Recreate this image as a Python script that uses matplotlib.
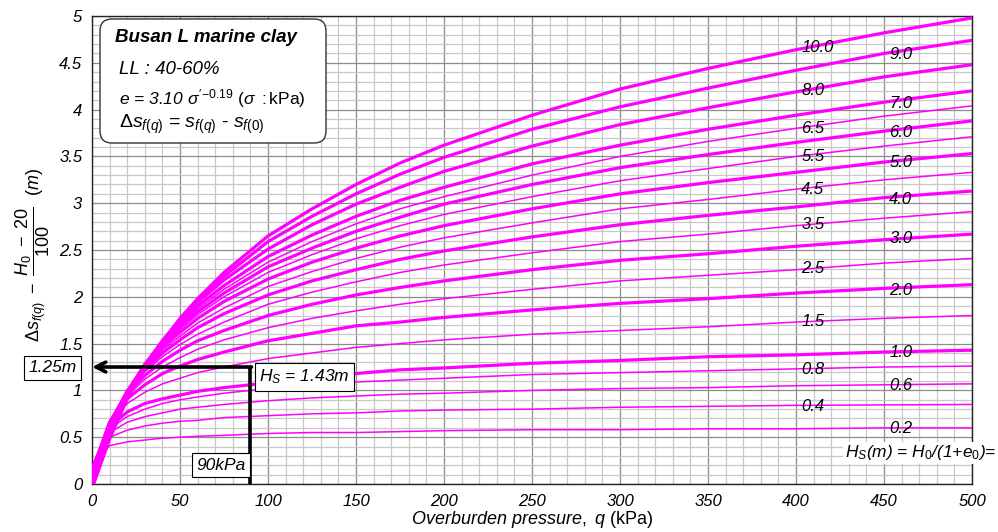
import matplotlib
matplotlib.use("Agg")
import matplotlib.pyplot as plt
from matplotlib.patches import FancyBboxPatch
from matplotlib.ticker import MultipleLocator

plt.rcParams['font.family'] = ['Liberation Sans', 'DejaVu Sans']
plt.rcParams['mathtext.fontset'] = 'custom'
plt.rcParams['mathtext.rm'] = 'Liberation Sans'
plt.rcParams['mathtext.it'] = 'Liberation Sans:italic'
plt.rcParams['mathtext.bf'] = 'Liberation Sans:bold'

# overburden pressure q (kPa) where the curves were read
q = [0, 10, 20, 30, 40, 50, 60, 75, 100, 125, 150, 175, 200, 250, 300, 350, 400, 450, 500]

# delta s - (H0-20)/100 (m)
hs_02 = [0.19, 0.41, 0.45, 0.47, 0.49, 0.50, 0.51, 0.52, 0.54, 0.55, 0.55, 0.56, 0.57, 0.58, 0.58, 0.59, 0.59, 0.60, 0.60]
hs_04 = [0.185, 0.50, 0.575, 0.62, 0.65, 0.67, 0.68, 0.71, 0.73, 0.75, 0.76, 0.78, 0.79, 0.80, 0.82, 0.83, 0.84, 0.845, 0.85]
hs_06 = [0.178, 0.55, 0.66, 0.72, 0.76, 0.80, 0.82, 0.85, 0.89, 0.92, 0.94, 0.96, 0.97, 1.00, 1.02, 1.03, 1.05, 1.06, 1.07]
hs_08 = [0.172, 0.59, 0.72, 0.80, 0.86, 0.90, 0.93, 0.97, 1.02, 1.06, 1.09, 1.11, 1.13, 1.17, 1.19, 1.21, 1.23, 1.25, 1.26]
hs_10 = [0.166, 0.61, 0.77, 0.86, 0.91, 0.95, 0.99, 1.03, 1.08, 1.14, 1.18, 1.22, 1.24, 1.29, 1.32, 1.36, 1.38, 1.41, 1.43]
hs_15 = [0.15, 0.65, 0.86, 0.98, 1.07, 1.13, 1.19, 1.25, 1.34, 1.40, 1.46, 1.50, 1.54, 1.60, 1.64, 1.68, 1.73, 1.77, 1.80]
hs_20 = [0.14, 0.66, 0.91, 1.06, 1.18, 1.26, 1.33, 1.41, 1.53, 1.61, 1.69, 1.73, 1.78, 1.86, 1.93, 1.98, 2.04, 2.09, 2.13]
hs_25 = [0.13, 0.66, 0.94, 1.12, 1.25, 1.35, 1.44, 1.54, 1.67, 1.77, 1.85, 1.92, 1.98, 2.08, 2.17, 2.23, 2.29, 2.36, 2.41]
hs_30 = [0.11, 0.66, 0.97, 1.16, 1.31, 1.43, 1.53, 1.64, 1.80, 1.92, 2.02, 2.10, 2.17, 2.29, 2.39, 2.46, 2.54, 2.61, 2.67]
hs_35 = [0.10, 0.66, 0.98, 1.20, 1.36, 1.49, 1.60, 1.73, 1.92, 2.05, 2.16, 2.26, 2.34, 2.47, 2.59, 2.67, 2.76, 2.84, 2.91]
hs_40 = [0.09, 0.65, 0.99, 1.22, 1.40, 1.54, 1.67, 1.82, 2.02, 2.17, 2.29, 2.40, 2.49, 2.64, 2.77, 2.87, 2.96, 3.06, 3.13]
hs_45 = [0.07, 0.63, 0.99, 1.24, 1.43, 1.58, 1.72, 1.88, 2.11, 2.27, 2.41, 2.53, 2.63, 2.79, 2.94, 3.04, 3.15, 3.25, 3.33]
hs_50 = [0.06, 0.62, 0.99, 1.25, 1.46, 1.62, 1.77, 1.95, 2.19, 2.37, 2.52, 2.65, 2.76, 2.94, 3.10, 3.22, 3.33, 3.44, 3.53]
hs_55 = [0.05, 0.61, 0.99, 1.26, 1.48, 1.65, 1.81, 2.00, 2.26, 2.45, 2.62, 2.76, 2.88, 3.07, 3.24, 3.37, 3.50, 3.61, 3.71]
hs_60 = [0.04, 0.60, 0.99, 1.27, 1.49, 1.68, 1.84, 2.04, 2.32, 2.52, 2.70, 2.85, 2.99, 3.20, 3.38, 3.52, 3.65, 3.77, 3.88]
hs_65 = [0.03, 0.59, 0.98, 1.27, 1.51, 1.70, 1.87, 2.08, 2.37, 2.59, 2.78, 2.94, 3.07, 3.30, 3.50, 3.66, 3.80, 3.93, 4.04]
hs_70 = [0.02, 0.58, 0.98, 1.28, 1.52, 1.72, 1.90, 2.12, 2.43, 2.66, 2.86, 3.03, 3.17, 3.42, 3.62, 3.79, 3.94, 4.08, 4.20]
hs_80 = [-0.01, 0.55, 0.96, 1.27, 1.53, 1.74, 1.94, 2.18, 2.51, 2.77, 2.99, 3.17, 3.34, 3.61, 3.84, 4.02, 4.19, 4.35, 4.48]
hs_90 = [-0.03, 0.51, 0.94, 1.26, 1.53, 1.76, 1.96, 2.22, 2.59, 2.86, 3.10, 3.31, 3.49, 3.79, 4.03, 4.23, 4.42, 4.60, 4.74]
hs_100 = [-0.05, 0.48, 0.91, 1.24, 1.52, 1.77, 1.98, 2.26, 2.65, 2.94, 3.20, 3.43, 3.62, 3.94, 4.22, 4.44, 4.64, 4.82, 4.98]

hs_names = ['0.2', '0.4', '0.6', '0.8', '1.0', '1.5', '2.0', '2.5', '3.0', '3.5',
            '4.0', '4.5', '5.0', '5.5', '6.0', '6.5', '7.0', '8.0', '9.0', '10.0']
curves = [hs_02, hs_04, hs_06, hs_08, hs_10, hs_15, hs_20, hs_25, hs_30, hs_35,
          hs_40, hs_45, hs_50, hs_55, hs_60, hs_65, hs_70, hs_80, hs_90, hs_100]

# where the Hs labels sit (q, y)
label_q = [453, 403, 453, 403, 453, 403, 453, 403, 453, 403,
           453, 403, 453, 403, 453, 403, 453, 403, 453, 403]
label_y = [0.59, 0.83, 1.05, 1.22, 1.40, 1.74, 2.07, 2.30, 2.62, 2.77,
           3.04, 3.15, 3.43, 3.50, 3.76, 3.80, 4.06, 4.20, 4.59, 4.66]

fig = plt.figure(figsize=(9.98, 5.32), dpi=100)
ax = fig.add_axes([0.0922, 0.0902, 0.8818, 0.8797])

for name, ys in zip(hs_names, curves):
    thick = name.endswith('.0')
    ax.plot(q, ys, color='#ff00ff', lw=2.3 if thick else 1.1, zorder=3,
            solid_joinstyle='round')

for name, lx, ly in zip(hs_names, label_q, label_y):
    ax.text(lx, ly, name, fontsize=12, style='italic', ha='left', va='center',
            zorder=5)

ax.set_xlim(0, 500)
ax.set_ylim(0, 5)
ax.xaxis.set_major_locator(MultipleLocator(50))
ax.xaxis.set_minor_locator(MultipleLocator(10))
ax.yaxis.set_major_locator(MultipleLocator(0.5))
ax.yaxis.set_minor_locator(MultipleLocator(0.1))
ax.grid(which='minor', color='#c8c8c8', lw=0.9, zorder=0)
ax.grid(which='major', color='#8c8c8c', lw=0.9, zorder=0)
ax.set_axisbelow(True)
ax.tick_params(which='both', length=0, labelsize=12, pad=7)
ax.set_yticks([0, 0.5, 1, 1.5, 2, 2.5, 3, 3.5, 4, 4.5, 5])
ax.set_yticklabels(['0', '0.5', '1', '1.5', '2', '2.5', '3', '3.5', '4', '4.5', '5'])
for t in ax.get_xticklabels() + ax.get_yticklabels():
    t.set_style('italic')
for s in ax.spines.values():
    s.set_color('#222222')
    s.set_linewidth(1.0)

ax.set_xlabel(r'$Overburden\ pressure,\ q\ \mathrm{(kPa)}$', fontsize=13,
              labelpad=0)
ax.set_ylabel(r'$\Delta s_{f(q)}\ -\ \dfrac{H_0\ -\ 20}{100}\ \ (m)$',
              fontsize=13, va='center')
ax.yaxis.set_label_coords(-0.067, 0.49)

# reading example at 90 kPa
ax.plot([90, 90], [0, 1.25], color='black', lw=2.6, zorder=6,
        solid_capstyle='butt')
ax.annotate('', xy=(0, 1.25), xytext=(90.6, 1.25),
            arrowprops=dict(arrowstyle='->,head_length=0.7,head_width=0.35',
                            color='black', lw=2.6, shrinkA=0, shrinkB=0),
            zorder=6, annotation_clip=False)
box = dict(boxstyle='square,pad=0.25', fc='white', ec='black', lw=0.8)
ax.text(73.5, 0.2, '90kPa', fontsize=12.5, style='italic', ha='center',
        va='center', bbox=box, zorder=7)
ax.text(120.5, 1.145, r'$H_S$ = 1.43m', fontsize=12.5, style='italic',
        ha='center', va='center', bbox=box, zorder=7)
fig.text(0.053, 1 - 368 / 532, '1.25m', fontsize=12.5, style='italic',
         ha='center', va='center', bbox=box)

fig.text(0.998, 1 - 453 / 532,
         r'$H_S$(m) = $H_{\mathit{0}}$/(1+$e_{\mathit{0}}$)=',
         fontsize=12.5, style='italic', ha='right', va='center', zorder=7,
         bbox=dict(boxstyle='square,pad=0.1', fc='white', ec='none'))

# info box
fig.patches.append(FancyBboxPatch((100 / 998, 1 - 143 / 532), 226 / 998,
                                  124 / 532, transform=fig.transFigure,
                                  boxstyle='round,pad=0,rounding_size=0.012',
                                  mutation_aspect=1.88, fc='white',
                                  ec='#333333', lw=1.0, zorder=10))
fig.text(115 / 998, 1 - 37 / 532, 'Busan L marine clay', fontsize=13.5,
         weight='bold', style='italic', va='center', zorder=11)
fig.text(119 / 998, 1 - 69 / 532, 'LL : 40-60%', fontsize=13.5,
         style='italic', va='center', zorder=11)
fig.text(119 / 998, 1 - 99 / 532,
         r"$e$ = 3.10 $\sigma'^{\mathit{-0.19}}$ $\mathrm{(}\sigma\mathrm{\ :kPa)}$",
         fontsize=12.5, style='italic', va='center', zorder=11)
fig.text(119 / 998, 1 - 124 / 532,
         r'$\Delta s_{f(q)}$ = $s_{f(q)}$ - $s_{f(0)}$', fontsize=14,
         va='center', zorder=11)

plt.savefig('out.png', dpi=100)
